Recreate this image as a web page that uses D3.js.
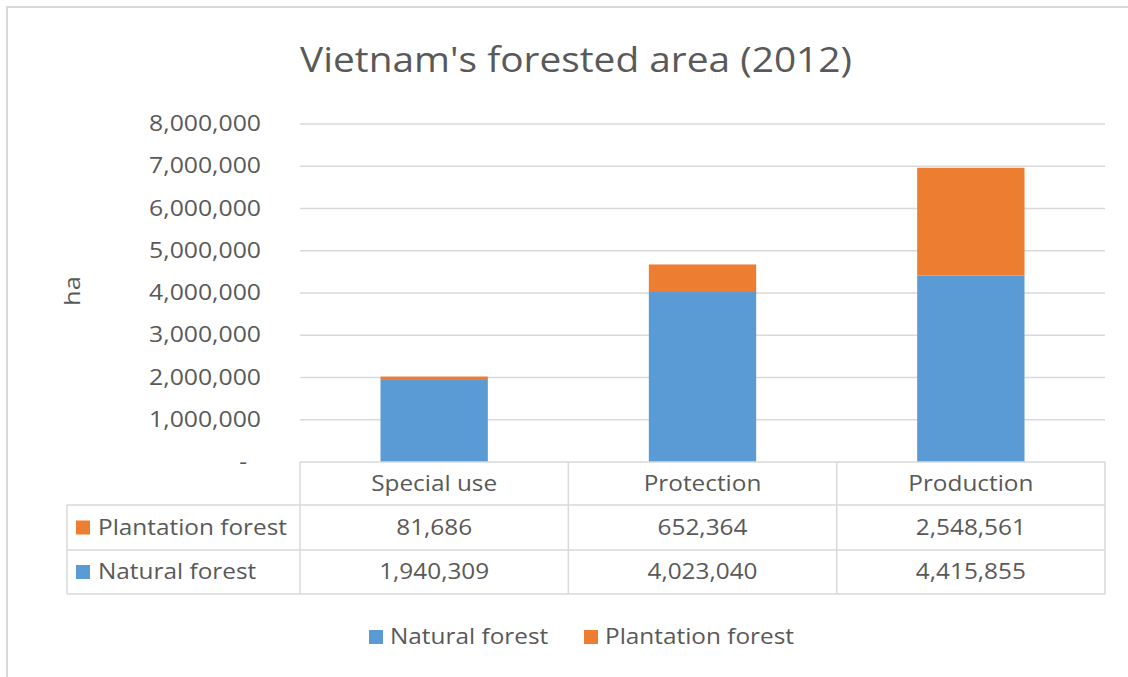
<!DOCTYPE html>
<html>
<head>
<meta charset="utf-8">
<script src="https://cdn.jsdelivr.net/npm/d3@7"></script>
<style>
  html, body { margin: 0; padding: 0; background: #fff; }
  svg { display: block; font-family: "Open Sans", "Segoe UI", sans-serif; }
</style>
</head>
<body>
<svg id="chart" width="1128" height="677"></svg>
<script>
// Forested area of Vietnam by forest type, 2012 (hectares)
const categories = ["Special use", "Protection", "Production"];
const naturalForest = [1940309, 4023040, 4415855];
const plantationForest = [81686, 652364, 2548561];
const seriesNames = ["Natural forest", "Plantation forest"];
const yTicks = [0, 1000000, 2000000, 3000000, 4000000, 5000000, 6000000, 7000000, 8000000];

const colors = { "Natural forest": "#5b9bd5", "Plantation forest": "#ed7d31" };
const textColor = "#595959";
const gridColor = "#d9d9d9";
const bodySize = 21;
const wide = 1.16; // horizontal widening of the body text

const svg = d3.select("#chart");
const W = 1128, H = 677;

// place a text element at (x, y), widened horizontally around its anchor
function label(parent, x, y, str, opts = {}) {
  const sx = opts.sx || wide;
  const rot = opts.rotate ? ` rotate(${opts.rotate})` : "";
  return parent.append("text")
    .attr("transform", `translate(${x},${y})${rot} scale(${sx},1)`)
    .attr("text-anchor", opts.anchor || "start")
    .attr("dy", opts.dy === undefined ? "0.35em" : opts.dy)
    .attr("font-size", opts.size || bodySize)
    .attr("fill", textColor)
    .text(str);
}

// chart frame
svg.append("rect")
  .attr("x", 7).attr("y", 7).attr("width", W + 10).attr("height", H + 10)
  .attr("fill", "#fff").attr("stroke", "#d9d9d9").attr("stroke-width", 2);

// title
label(svg, 576, 72, "Vietnam's forested area (2012)", { anchor: "middle", size: 35, sx: 1.11, dy: 0 });

const plot = { left: 300, right: 1105, top: 124, bottom: 462 };

const x = d3.scaleBand().domain(categories).range([plot.left, plot.right]).paddingInner(0).paddingOuter(0);
const y = d3.scaleLinear().domain([0, 8000000]).range([plot.bottom, plot.top]);

// gridlines
svg.append("g")
  .selectAll("line")
  .data(yTicks.slice(1))
  .join("line")
  .attr("x1", plot.left).attr("x2", plot.right)
  .attr("y1", d => y(d)).attr("y2", d => y(d))
  .attr("stroke", gridColor).attr("stroke-width", 1.3);

// y axis labels
const yAxis = d3.axisLeft(y).tickValues(yTicks).tickSize(0).tickPadding(0)
  .tickFormat(d => d === 0 ? "-" : d3.format(",")(d));
const yG = svg.append("g").attr("transform", `translate(${261},0)`).call(yAxis);
yG.select(".domain").remove();
yG.selectAll("text")
  .attr("x", 0)
  .attr("font-size", bodySize).attr("fill", textColor)
  .attr("font-family", "\"Open Sans\", sans-serif")
  .attr("transform", d => d === 0 ? `translate(-14,0) scale(${wide},1)` : `scale(${wide + 0.02},1)`);

// axis title
label(svg, 72, 291, "ha", { anchor: "middle", rotate: -90, size: 22 });

// stacked bars
const rows = categories.map((c, i) => ({
  category: c,
  "Natural forest": naturalForest[i],
  "Plantation forest": plantationForest[i]
}));
const stack = d3.stack().keys(seriesNames)(rows);
const barW = x.bandwidth() * 0.4;

svg.append("g")
  .selectAll("g")
  .data(stack)
  .join("g")
  .attr("fill", d => colors[d.key])
  .selectAll("rect")
  .data(d => d)
  .join("rect")
  .attr("x", d => x(d.data.category) + (x.bandwidth() - barW) / 2)
  .attr("width", barW)
  .attr("y", d => y(d[1]))
  .attr("height", d => y(d[0]) - y(d[1]));

// data table
const tableLeft = 67;
const rowTops = [462, 505, 550, 594];
const tableLines = svg.append("g").attr("stroke", gridColor).attr("stroke-width", 1.5).attr("fill", "none");
tableLines.append("line").attr("x1", plot.left).attr("x2", plot.right).attr("y1", rowTops[0]).attr("y2", rowTops[0]);
rowTops.slice(1).forEach(t => {
  tableLines.append("line").attr("x1", tableLeft).attr("x2", plot.right).attr("y1", t).attr("y2", t);
});
tableLines.append("line").attr("x1", tableLeft).attr("x2", tableLeft).attr("y1", rowTops[1]).attr("y2", rowTops[3]);
const colEdges = categories.map(c => x(c)).concat([plot.right]);
colEdges.forEach(cx => {
  tableLines.append("line").attr("x1", cx).attr("x2", cx).attr("y1", rowTops[0]).attr("y2", rowTops[3]);
});

const cellMid = i => (rowTops[i] + rowTops[i + 1]) / 2;
const colMid = c => x(c) + x.bandwidth() / 2;

// header row
const header = svg.append("g");
categories.forEach(c => label(header, colMid(c), cellMid(0), c, { anchor: "middle" }));

const tableRows = [
  { name: "Plantation forest", values: plantationForest },
  { name: "Natural forest", values: naturalForest }
];
tableRows.forEach((r, ri) => {
  const g = svg.append("g");
  const ym = cellMid(ri + 1);
  g.append("rect").attr("x", 76).attr("y", ym - 7).attr("width", 14).attr("height", 14).attr("fill", colors[r.name]);
  label(g, 98, ym, r.name);
  r.values.forEach((v, i) => label(g, colMid(categories[i]), ym, d3.format(",")(v), { anchor: "middle" }));
});

// legend
const legend = svg.append("g");
const legendX = [369, 584];
seriesNames.forEach((s, i) => {
  legend.append("rect").attr("x", legendX[i]).attr("y", 630).attr("width", 14).attr("height", 14).attr("fill", colors[s]);
  label(legend, legendX[i] + 21, 637, s);
});
</script>
</body>
</html>
